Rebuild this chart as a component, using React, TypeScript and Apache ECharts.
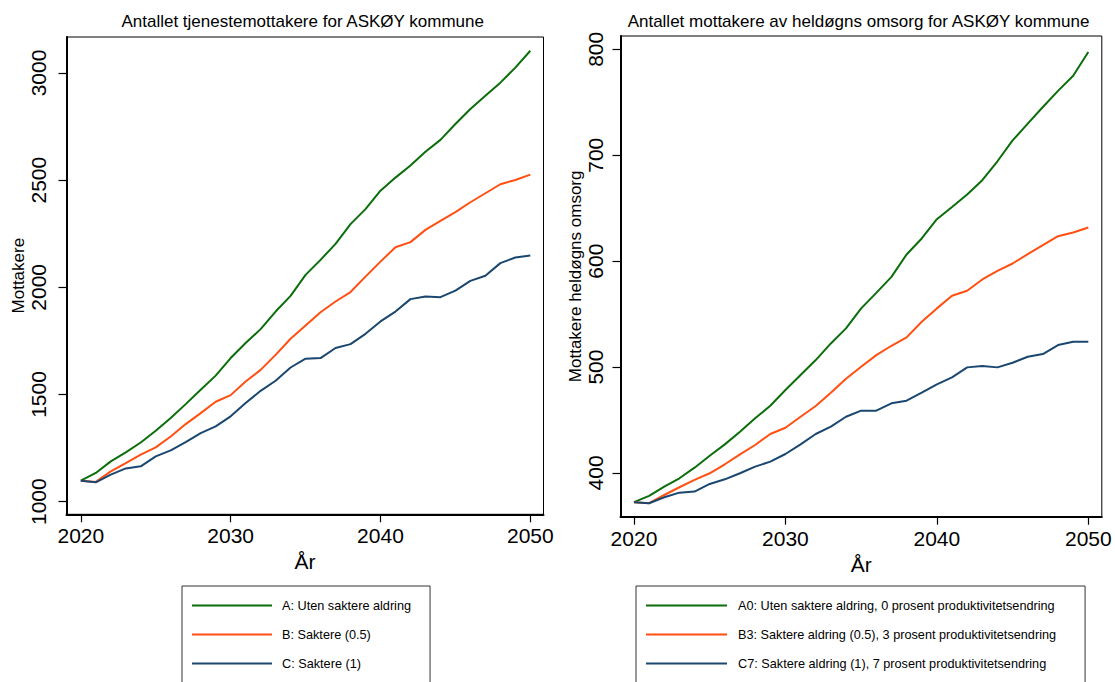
import React, { useEffect, useRef } from "react";
import * as echarts from "echarts";

const FONT = "'Liberation Sans', Arial, Helvetica, sans-serif";

const years = [
  2020, 2021, 2022, 2023, 2024, 2025, 2026, 2027, 2028, 2029, 2030,
  2031, 2032, 2033, 2034, 2035, 2036, 2037, 2038, 2039, 2040,
  2041, 2042, 2043, 2044, 2045, 2046, 2047, 2048, 2049, 2050,
];

// Left chart: Antallet tjenestemottakere
const tjenesteA = [
  1098, 1134, 1188, 1230, 1276, 1331, 1390, 1455, 1522, 1588, 1670,
  1740, 1805, 1887, 1960, 2058, 2128, 2203, 2295, 2365, 2451,
  2512, 2568, 2633, 2688, 2762, 2832, 2894, 2955, 3025, 3104,
];
const tjenesteB = [
  1098, 1092, 1141, 1180, 1219, 1253, 1304, 1362, 1413, 1466, 1497,
  1561, 1615, 1685, 1760, 1822, 1884, 1934, 1978, 2050, 2120,
  2187, 2211, 2268, 2310, 2351, 2397, 2439, 2481, 2501, 2526,
];
const tjenesteC = [
  1098, 1090, 1126, 1155, 1165, 1211, 1239, 1278, 1320, 1351, 1398,
  1460, 1517, 1564, 1626, 1667, 1670, 1717, 1735, 1783, 1841,
  1887, 1945, 1957, 1954, 1985, 2030, 2054, 2113, 2139, 2148,
];

// Right chart: Antallet mottakere av heldøgns omsorg
const heldognA0 = [
  372.4, 378.3, 387.1, 395.0, 405.0, 416.3, 427.0, 439.0, 451.6, 463.5, 478.3,
  492.5, 506.6, 522.3, 536.5, 555.4, 570.0, 585.2, 606.3, 621.4, 639.6,
  651.2, 662.9, 676.4, 694.3, 714.0, 729.9, 745.6, 760.8, 775.0, 797.5,
];
const heldognB3 = [
  372.4, 371.5, 379.2, 386.5, 393.4, 399.7, 408.2, 417.6, 426.4, 436.8, 442.7,
  453.1, 463.2, 475.8, 489.0, 500.3, 511.3, 520.1, 528.0, 542.8, 555.4,
  567.3, 572.0, 582.7, 590.8, 597.8, 606.6, 615.1, 623.6, 627.1, 631.8,
];
const heldognC7 = [
  372.4, 371.4, 377.1, 381.4, 382.4, 389.6, 394.0, 399.7, 406.0, 410.7, 417.9,
  427.0, 436.8, 443.7, 453.1, 458.8, 458.8, 465.8, 468.2, 475.8, 483.7,
  490.3, 499.7, 500.9, 499.7, 504.1, 509.7, 512.3, 520.8, 523.9, 523.9,
];

const xTicks = [2020, 2030, 2040, 2050];
const leftYTicks = [1000, 1500, 2000, 2500, 3000];
const rightYTicks = [400, 500, 600, 700, 800];

const leftNames = ["A: Uten saktere aldring", "B: Saktere (0.5)", "C: Saktere (1)"];
const rightNames = [
  "A0: Uten saktere aldring, 0 prosent produktivitetsendring",
  "B3: Saktere aldring (0.5), 3 prosent produktivitetsendring",
  "C7: Saktere aldring (1), 7 prosent produktivitetsendring",
];

const titles = [
  "Antallet tjenestemottakere for ASKØY kommune",
  "Antallet mottakere av heldøgns omsorg for ASKØY kommune",
];
const yTitles = ["Mottakere", "Mottakere heldøgns omsorg"];
const xTitle = "År";

const colors = ["#0b6e0b", "#ff4f12", "#1a476f"];

function pairs(vals: number[]) {
  return years.map((y, i) => [y, vals[i]]);
}

const plain = (v: number) => String(v);

function makeX(gridIndex: number, min: number, max: number) {
  return {
    type: "value",
    gridIndex,
    min,
    max,
    name: xTitle,
    nameLocation: "middle",
    nameGap: 35,
    nameTextStyle: { fontSize: 21, color: "#000", fontFamily: FONT },
    axisLine: { show: true, onZero: false, lineStyle: { color: "#000", width: 2 } },
    axisTick: { show: true, length: 8, lineStyle: { color: "#000", width: 1.2 }, customValues: xTicks },
    axisLabel: { customValues: xTicks, formatter: plain, fontSize: 21, color: "#000", fontFamily: FONT, margin: 11 },
    splitLine: { show: false },
  };
}

function makeY(gridIndex: number, min: number, max: number, ticks: number[], name: string, nameGap: number, margin: number) {
  return {
    type: "value",
    gridIndex,
    min,
    max,
    name,
    nameLocation: "middle",
    nameGap,
    nameTextStyle: { fontSize: 17, color: "#000", fontFamily: FONT },
    axisLine: { show: true, onZero: false, lineStyle: { color: "#000", width: 2 } },
    axisTick: { show: true, length: 8, lineStyle: { color: "#000", width: 1.2 }, customValues: ticks },
    axisLabel: { customValues: ticks, formatter: plain, rotate: 90, fontSize: 21, color: "#000", fontFamily: FONT, margin },
    splitLine: { show: false },
  };
}

function makeLegend(left: number, names: string[], itemWidth: number, textPad: number, padRight: number) {
  return {
    show: true,
    type: "plain",
    orient: "vertical",
    left,
    top: 586,
    height: 150,
    data: names,
    icon: "rect",
    itemWidth,
    itemHeight: 2,
    itemGap: 14,
    padding: [12, padRight, 40, 10],
    borderColor: "#333",
    borderWidth: 1,
    selectedMode: false,
    textStyle: { fontSize: 12.7, color: "#000", fontFamily: FONT, lineHeight: 15, padding: [0, 0, 0, textPad] },
  };
}

export default function App() {
  const ref = useRef<HTMLDivElement>(null);

  useEffect(() => {
    document.body.style.margin = "0";
    if (!ref.current) return;
    const chart = echarts.init(ref.current, null, { renderer: "svg" });
    const lineSeries = (name: string, vals: number[], idx: number, c: string) => ({
      type: "line",
      name,
      xAxisIndex: idx,
      yAxisIndex: idx,
      data: pairs(vals),
      symbol: "none",
      showSymbol: false,
      color: c,
      lineStyle: { color: c, width: 2 },
      emphasis: { disabled: true },
    });
    chart.setOption({
      animation: false,
      backgroundColor: "#fff",
      textStyle: { fontFamily: FONT },
      title: [
        {
          text: titles[0], left: 302.7, top: 13, textAlign: "center", padding: 0,
          textStyle: { fontSize: 17, fontWeight: "normal", color: "#000", fontFamily: FONT },
        },
        {
          text: titles[1], left: 858.5, top: 13, textAlign: "center", padding: 0,
          textStyle: { fontSize: 17, fontWeight: "normal", color: "#000", fontFamily: FONT },
        },
      ],
      grid: [
        { left: 66.5, top: 37, width: 477, height: 477.3, show: true, borderColor: "#000", borderWidth: 1, containLabel: false },
        { left: 620.5, top: 36, width: 481.3, height: 480.7, show: true, borderColor: "#000", borderWidth: 1, containLabel: false },
      ],
      xAxis: [makeX(0, 2019.045, 2050.88), makeX(1, 2019.11, 2050.89)],
      yAxis: [
        makeY(0, 941, 3168, leftYTicks, yTitles[0], 38.5, 18),
        makeY(1, 358.7, 812.6, rightYTicks, yTitles[1], 34.5, 15),
      ],
      legend: [
        makeLegend(182, leftNames, 80, 5, 19),
        makeLegend(636, rightNames, 81, 6, 29),
      ],
      series: [
        lineSeries(leftNames[0], tjenesteA, 0, colors[0]),
        lineSeries(leftNames[1], tjenesteB, 0, colors[1]),
        lineSeries(leftNames[2], tjenesteC, 0, colors[2]),
        lineSeries(rightNames[0], heldognA0, 1, colors[0]),
        lineSeries(rightNames[1], heldognB3, 1, colors[1]),
        lineSeries(rightNames[2], heldognC7, 1, colors[2]),
      ],
    });
    return () => chart.dispose();
  }, []);

  return (
    <div
      ref={ref}
      style={{ position: "absolute", left: 0, top: 0, width: 1115, height: 682, background: "#fff" }}
    />
  );
}
